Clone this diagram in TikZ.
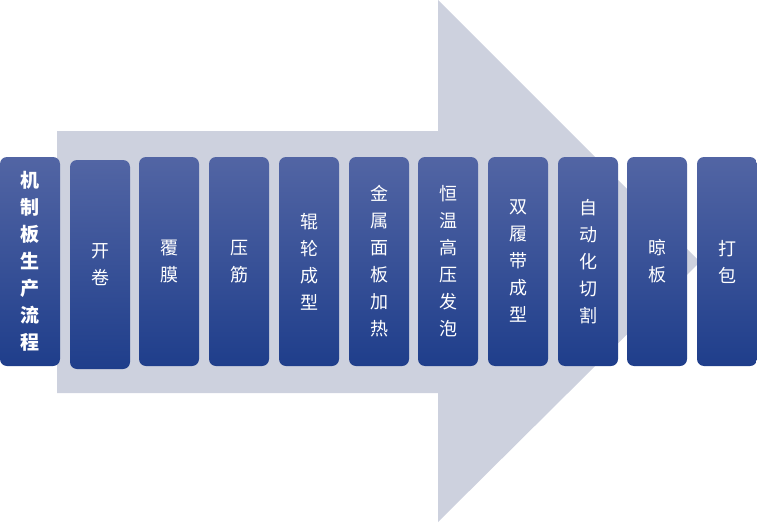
\documentclass[tikz,border=0pt]{standalone}
\usepackage{fontspec}
\newfontfamily\cjk{Noto Sans CJK SC}
\definecolor{arrowc}{HTML}{CDD1DE}
\definecolor{boxtop}{HTML}{5265A4}
\definecolor{boxbot}{HTML}{1F3E8B}
\tikzset{
  stepbox/.style={rounded corners=7pt, top color=boxtop, bottom color=boxbot, draw=none},
  steptext/.style={text=white, align=center, font=\cjk\fontsize{18}{27}\selectfont, inner sep=0pt}
}
\begin{document}
\begin{tikzpicture}[x=1pt,y=-1pt]
\useasboundingbox (0,0) rectangle (757,524);
\fill[arrowc] (57,131) -- (438,131) -- (438,0) -- (700,262) -- (438,522) -- (438,393) -- (57,393) -- cycle;
\newcommand{\stepnode}[5]{%
  \path[stepbox] (#2,#3) rectangle (#2+60,#3+209);
  \node[steptext] (#1) at (#2+30,#3+104.5) {#4};
}
\stepnode{s0}{0}{157}{}{}
\node[steptext, font=\cjk\bfseries\fontsize{19}{27}\selectfont] (t0) at (30,261.5) {机\\制\\板\\生\\产\\流\\程};
\stepnode{s1}{70}{160}{开\\卷}{}
\stepnode{s2}{139}{157}{覆\\膜}{}
\stepnode{s3}{209}{157}{压\\筋}{}
\stepnode{s4}{279}{157}{辊\\轮\\成\\型}{}
\stepnode{s5}{349}{157}{金\\属\\面\\板\\加\\热}{}
\stepnode{s6}{418}{157}{恒\\温\\高\\压\\发\\泡}{}
\stepnode{s7}{488}{157}{双\\履\\带\\成\\型}{}
\stepnode{s8}{558}{157}{自\\动\\化\\切\\割}{}
\stepnode{s9}{627}{157}{晾\\板}{}
\stepnode{s10}{697}{157}{打\\包}{}
\end{tikzpicture}
\end{document}
